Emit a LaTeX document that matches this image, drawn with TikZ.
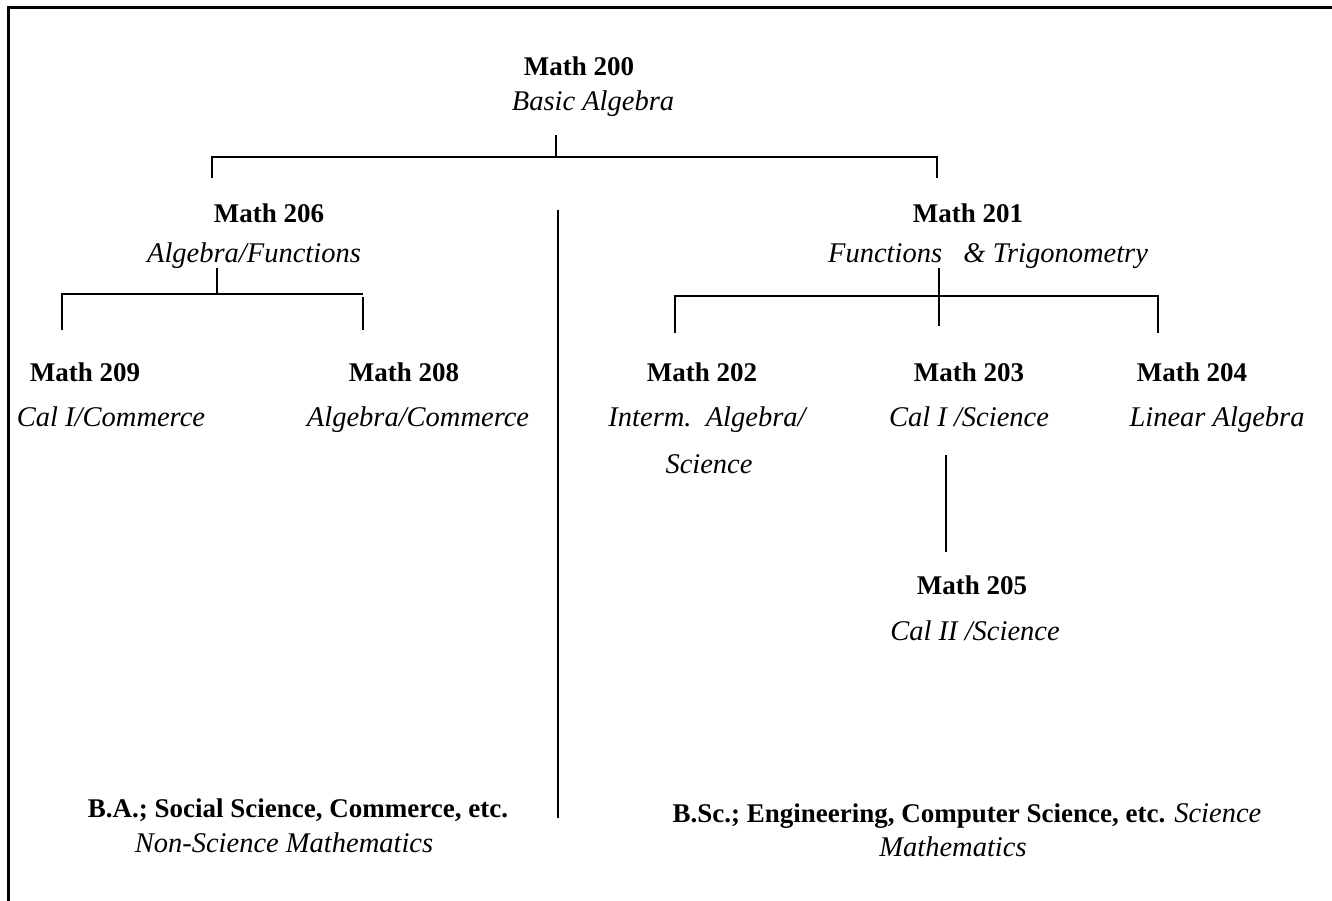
\documentclass[tikz,border=0pt]{standalone}
\usepackage{fontspec}
\setmainfont{Liberation Serif}
\begin{document}
\begin{tikzpicture}[x=1pt,y=-1pt,
  every node/.style={inner sep=0pt,outer sep=0pt,anchor=base,font=\fontsize{27}{31}\selectfont},
  ttl/.style={font=\fontsize{27}{31}\selectfont\bfseries},
  sub/.style={font=\fontsize{28.5}{32}\selectfont\itshape},
  link/.style={line width=2pt},
  frame/.style={line width=3pt}]
\useasboundingbox (0,0) rectangle (1332,901);
% frame
\draw[frame] (8,901) -- (8,8) -- (1332,8);
% nodes
\node[ttl] (m200) at (579,76) {Math 200};
\node[sub] (m200s) at (593,111) {Basic Algebra};
\node[ttl] (m206) at (269,223) {Math 206};
\node[sub] (m206s) at (254,262) {Algebra/Functions};
\node[ttl] (m201) at (968,223) {Math 201};
\node[sub] (m201s) at (988,262) {Functions\ \ \ \& Trigonometry};
\node[ttl] (m209) at (85,381) {Math 209};
\node[sub] (m209s) at (111,426) {Cal I/Commerce};
\node[ttl] (m208) at (404,381) {Math 208};
\node[sub] (m208s) at (418,426) {Algebra/Commerce};
\node[ttl] (m202) at (702,381) {Math 202};
\node[sub] (m202s) at (707,426) {Interm.\ \ Algebra/};
\node[sub] (m202t) at (709,473) {Science};
\node[ttl] (m203) at (969,381) {Math 203};
\node[sub] (m203s) at (969,426) {Cal I /Science};
\node[ttl] (m204) at (1192,381) {Math 204};
\node[sub] (m204s) at (1217,426) {Linear Algebra};
\node[ttl] (m205) at (972,594) {Math 205};
\node[sub] (m205s) at (975,640) {Cal II /Science};
\node[ttl] (ba) at (298,817) {B.A.; Social Science, Commerce, etc.};
\node[sub] (bas) at (284,852) {Non-Science Mathematics};
\node[ttl] (bsc) at (967,822) {B.Sc.; Engineering, Computer Science, etc. {\mdseries\itshape\fontsize{28.5}{32}\selectfont Science}};
\node[sub] (bscs) at (953,856) {Mathematics};
% coordinates
\coordinate (a0) at (556,135); \coordinate (a1) at (556,157);
\coordinate (aL) at (212,157); \coordinate (aR) at (937,157);
\coordinate (aLd) at (212,178); \coordinate (aRd) at (937,178);
\coordinate (d0) at (558,210); \coordinate (d1) at (558,818);
\coordinate (b0) at (217,268); \coordinate (b1) at (217,294);
\coordinate (bL) at (62,294); \coordinate (bR) at (363,294);
\coordinate (bLd) at (62,330); \coordinate (bRt) at (363,297); \coordinate (bRd) at (363,330);
\coordinate (c0) at (939,268); \coordinate (c1) at (939,326);
\coordinate (cL) at (675,296); \coordinate (cR) at (1158,296);
\coordinate (cLd) at (675,333); \coordinate (cRd) at (1158,333);
\coordinate (e0) at (946,455); \coordinate (e1) at (946,552);
% connectors
\draw[link] (a0) -- (a1);
\draw[link] (aLd) -- (aL) -- (aR) -- (aRd);
\draw[link] (d0) -- (d1);
\draw[link] (b0) -- (b1);
\draw[link] (bLd) -- (bL) -- (bR);
\draw[link] (bRt) -- (bRd);
\draw[link] (c0) -- (c1);
\draw[link] (cLd) -- (cL) -- (cR) -- (cRd);
\draw[link] (e0) -- (e1);
\end{tikzpicture}
\end{document}
